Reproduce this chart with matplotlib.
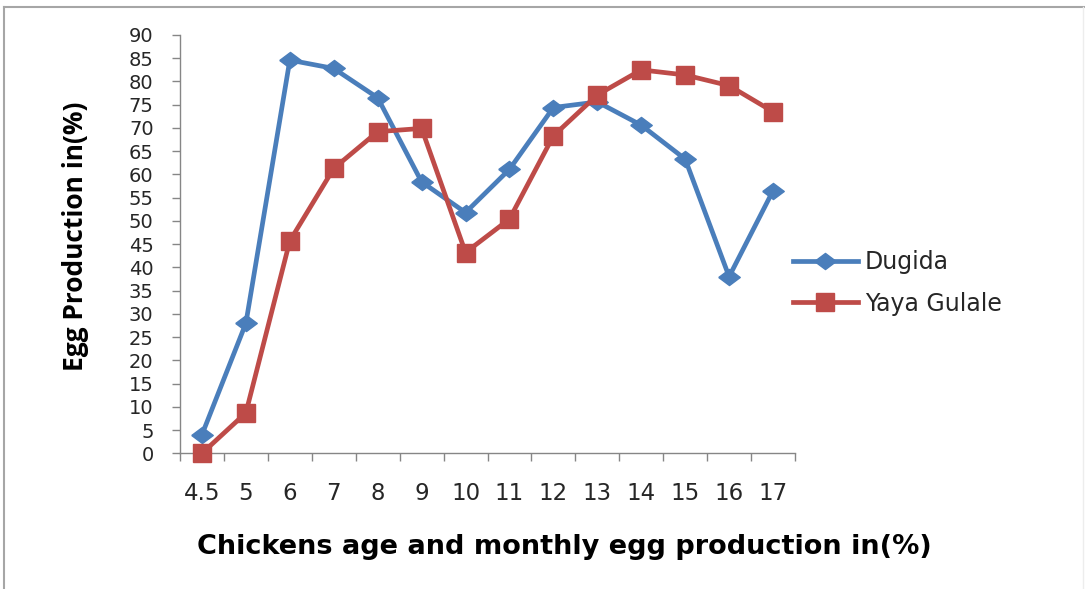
import numpy as np
import matplotlib
matplotlib.use("Agg")
import matplotlib.pyplot as plt
from matplotlib.lines import Line2D

# Monthly egg production (%) by chicken age for two districts
ages = ["4.5", "5", "6", "7", "8", "9", "10", "11", "12", "13", "14", "15", "16", "17"]
dugida = [4.0, 28.0, 84.6, 82.8, 76.5, 58.4, 51.8, 61.1, 74.4, 75.6, 70.6, 63.3, 38.0, 56.5]
yaya_gulale = [0.0, 8.7, 45.7, 61.3, 69.2, 69.9, 43.2, 50.4, 68.3, 77.1, 82.5, 81.4, 79.1, 73.5]
series_names = ["Dugida", "Yaya Gulale"]
y_ticks = list(range(0, 91, 5))

BLUE = "#4A7EBB"
RED = "#BE4B48"
AXIS_GREY = "#868686"
TEXT = "#262626"
WIDE = "DejaVu Sans"
NARROW = "Open Sans"

# Slightly flattened diamond, as in the spreadsheet-style line markers
DIAMOND = [(-1.0, 0.0), (0.0, 0.75), (1.0, 0.0), (0.0, -0.75), (-1.0, 0.0)]

W, H = 1085, 589
fig = plt.figure(figsize=(W / 100, H / 100), dpi=100)
fig.patch.set_facecolor("white")

ax = fig.add_axes([180 / W, (H - 453.3) / H, 615 / W, 418.3 / H])
x = np.arange(len(ages))

ax.plot(x, dugida, color=BLUE, lw=3.4, marker=DIAMOND, ms=15.5,
        markeredgecolor=BLUE, clip_on=False, zorder=3, label=series_names[0])
ax.plot(x, yaya_gulale, color=RED, lw=3.4, marker="s", ms=13,
        markeredgecolor=RED, clip_on=False, zorder=4, label=series_names[1])

ax.set_xlim(-0.5, len(ages) - 0.5)
ax.set_ylim(0, 90)

# Category boundaries carry the tick marks, category centres carry the labels
ax.set_xticks(np.arange(-0.5, len(ages), 1.0))
ax.set_xticks(x, minor=True)
ax.set_xticklabels([], minor=False)
ax.set_xticklabels(ages, minor=True, fontsize=16.5, color=TEXT, family=WIDE)
ax.tick_params(axis="x", which="major", length=6, width=1, color=AXIS_GREY, direction="out")
ax.tick_params(axis="x", which="minor", length=0, pad=21)

ax.set_yticks(y_ticks)
ax.set_yticklabels([str(v) for v in y_ticks], fontsize=14, color=TEXT, family=WIDE)
ax.tick_params(axis="y", length=6, width=1, color=AXIS_GREY, direction="out", pad=13)

for side in ("top", "right"):
    ax.spines[side].set_visible(False)
for side in ("left", "bottom"):
    ax.spines[side].set_color(AXIS_GREY)
    ax.spines[side].set_linewidth(1.0)

fig.text(76 / W, 1 - 236 / H, "Egg Production in(%)", rotation=90,
         ha="center", va="center", fontsize=19, fontweight="bold",
         color="black", family=NARROW)
fig.text(564 / W, 1 - 547 / H, "Chickens age and monthly egg production in(%)",
         ha="center", va="center", fontsize=19.5, fontweight="bold",
         color="black", family=WIDE)

handles, labels = ax.get_legend_handles_labels()
leg = fig.legend(handles, labels, loc="center left",
                 bbox_to_anchor=(793 / W, 1 - 283 / H), frameon=False,
                 prop={"family": WIDE, "size": 17}, handlelength=2.75,
                 handletextpad=0.3, labelspacing=0.72, borderpad=0,
                 borderaxespad=0)
for t in leg.get_texts():
    t.set_color(TEXT)

# Thin frame around the figure area
fig.add_artist(Line2D([4 / W, 1.0], [1 - 7 / H, 1 - 7 / H], color="#A6A6A6", lw=1.5))
fig.add_artist(Line2D([4 / W, 4 / W], [0, 1 - 7 / H], color="#A6A6A6", lw=1.5))
fig.add_artist(Line2D([1083 / W, 1083 / W], [0, 1 - 7 / H], color="#EDEDED", lw=1.0))

fig.savefig("out.png", dpi=100, facecolor="white")
